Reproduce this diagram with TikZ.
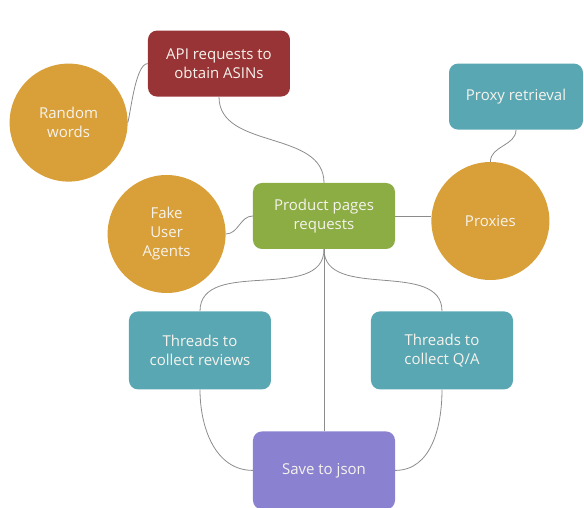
\documentclass[tikz,border=0pt]{standalone}
\usepackage{fontspec}
\setmainfont{Open Sans}
\usetikzlibrary{positioning}

\definecolor{asinred}{HTML}{983336}
\definecolor{pagegreen}{HTML}{8BAD44}
\definecolor{threadteal}{HTML}{5AA7B4}
\definecolor{inputorange}{HTML}{D9A03A}
\definecolor{jsonpurple}{HTML}{8A82D0}
\definecolor{linkgray}{HTML}{8C8C8C}
\definecolor{softwhite}{HTML}{F6F3EC}

\begin{document}
\begin{tikzpicture}[node distance=60pt and 30pt]

\tikzset{
  box/.style={
    rectangle, rounded corners=9pt,
    align=center, text=softwhite,
    minimum height=66pt, minimum width=142pt,
    inner sep=3pt, font=\fontsize{15}{19}\selectfont
  },
  tallbox/.style={box, minimum height=78pt},
  blob/.style={
    circle, fill=inputorange, text=softwhite,
    align=center, minimum size=118pt,
    inner sep=2pt, font=\fontsize{15}{19}\selectfont
  },
  link/.style={draw=linkgray, line width=0.8pt}
}

\useasboundingbox (-324pt,-292pt) rectangle (260pt,216pt);

% ==========================
% Centre and inputs
% ==========================
\node[box, fill=pagegreen] (pages) {Product pages\\requests};
\node[box, fill=asinred, above=86pt of pages, xshift=-105pt] (asins) {API requests to\\obtain ASINs};
\node[blob, left=20pt of asins, yshift=-59pt] (words) {Random\\words};
\node[blob, left=27pt of pages, yshift=-18pt] (agents) {Fake\\User\\Agents};
\node[blob, right=36pt of pages, yshift=-5pt] (proxies) {Proxies};
\node[box, fill=threadteal, minimum width=134pt, above=53pt of pages, xshift=192pt] (proxyret) {Proxy retrieval};

% ==========================
% Threads and output
% ==========================
\node[tallbox, fill=threadteal, below=62pt of pages, xshift=-124pt] (reviews) {Threads to\\collect reviews};
\node[tallbox, fill=threadteal, below=62pt of pages, xshift=118pt] (qa) {Threads to\\collect Q/A};
\node[tallbox, fill=jsonpurple, below=182pt of pages] (json) {Save to json};

% Connectors
\draw[link] (words.east) to[out=75, in=180, looseness=0.5] (asins.west);
\draw[link] (asins.south) to[out=-90, in=90] (pages.north);
\draw[link] (agents.east) to[out=0, in=180] (pages.west);
\draw[link] (pages.east) -- (proxies.west |- pages.east);
\draw[link] (proxies.north) to[out=90, in=-90] (proxyret.south);
\draw[link] (pages.south) to[out=-90, in=90] (reviews.north);
\draw[link] (pages.south) to[out=-90, in=90] (qa.north);
\draw[link] (pages.south) -- (json.north);
\draw[link] (reviews.south) to[out=-90, in=180] (json.west);
\draw[link] (qa.south) to[out=-90, in=0] (json.east);

\end{tikzpicture}
\end{document}
